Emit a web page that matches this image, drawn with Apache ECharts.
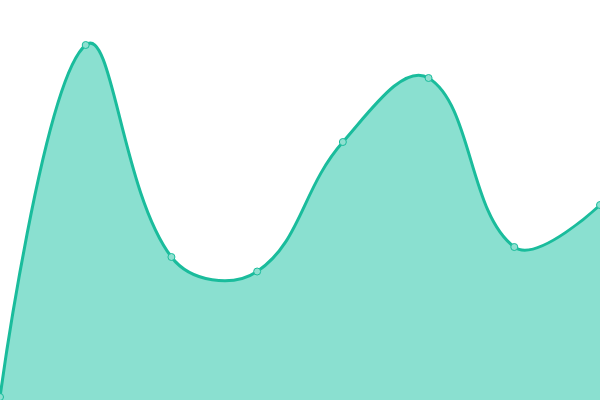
<!DOCTYPE html>
<html><head><meta charset="utf-8">
<script src="https://cdn.jsdelivr.net/npm/echarts@6/dist/echarts.min.js"></script>
<style>html,body{margin:0;padding:0;background:#fff}#c{width:600px;height:400px}</style>
</head><body><div id="c"></div>
<script>
const categories = ['A','B','C','D','E','F','G','H'];
const values = [3, 355, 143, 128.5, 258, 322, 153, 195];
const SMOOTH = 0.4;

// Cardinal-style bezier smoothing, control points capped to the plot area.
function smoothPath(pts, smooth, rect) {
  const clamp = c => [Math.min(Math.max(c[0], rect.x), rect.x + rect.width),
                      Math.min(Math.max(c[1], rect.y), rect.y + rect.height)];
  const cps = [];
  const n = pts.length;
  for (let i = 0; i < n; i++) {
    const p = pts[i];
    if (i === 0 || i === n - 1) { cps.push([p[0], p[1]]); continue; }
    const prev = pts[i-1], next = pts[i+1];
    const v = [(next[0]-prev[0])*smooth, (next[1]-prev[1])*smooth];
    let d0 = Math.hypot(p[0]-prev[0], p[1]-prev[1]);
    let d1 = Math.hypot(p[0]-next[0], p[1]-next[1]);
    const s = d0 + d1; if (s) { d0 /= s; d1 /= s; }
    cps.push(clamp([p[0]-v[0]*d0, p[1]-v[1]*d0]));
    cps.push(clamp([p[0]+v[0]*d1, p[1]+v[1]*d1]));
  }
  let d = 'M' + pts[0][0] + ' ' + pts[0][1];
  for (let i = 1; i < n; i++) {
    const c1 = cps[2*(i-1)], c2 = cps[2*(i-1)+1];
    d += ' C' + c1[0] + ' ' + c1[1] + ' ' + c2[0] + ' ' + c2[1] + ' ' + pts[i][0] + ' ' + pts[i][1];
  }
  return d;
}

const chart = echarts.init(document.getElementById('c'), null, {renderer:'canvas'});
chart.setOption({
  animation:false,
  grid:{left:0,right:0,top:0,bottom:0},
  xAxis:{type:'category',data:categories,boundaryGap:false,show:false},
  yAxis:{type:'value',min:0,max:400,show:false},
  series:[{
    type:'custom',
    data: values,
    renderItem: function(params, api) {
      if (params.dataIndex !== 0) return null;
      const pts = values.map((v, i) => api.coord([i, v]));
      const line = smoothPath(pts, SMOOTH, params.coordSys);
      const b0 = api.coord([0, 0]), b1 = api.coord([values.length - 1, 0]);
      const area = line + ' L' + b1[0] + ' ' + b1[1] + ' L' + b0[0] + ' ' + b0[1] + ' Z';
      return {
        type:'group',
        children:[
          {type:'path', shape:{pathData:area}, style:{fill:'#8ae0d0', stroke:null}},
          {type:'path', shape:{pathData:line}, style:{fill:null, stroke:'#1abc9c', lineWidth:3}}
        ]
      };
    }
  },{
    type:'line', data: values, z:5,
    symbol:'circle', symbolSize:7, showAllSymbol:true,
    lineStyle:{opacity:0},
    itemStyle:{color:'#8ee0d0', borderColor:'#1abc9c', borderWidth:1}
  }]
});
</script></body></html>
